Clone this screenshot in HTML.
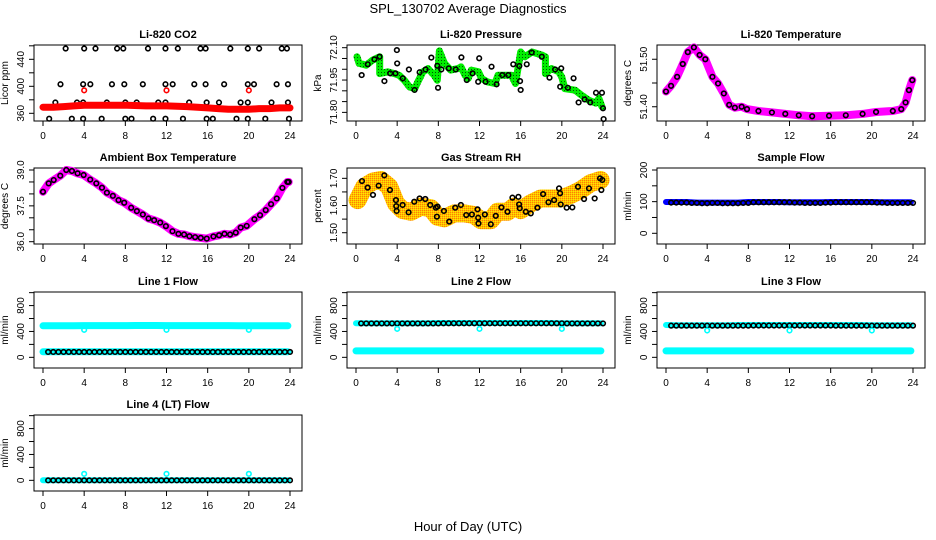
<!DOCTYPE html>
<html><head><meta charset="utf-8">
<style>
html,body{margin:0;padding:0;background:#fff;}
svg{display:block;font-family:"Liberation Sans",Arial,sans-serif;}
</style></head>
<body>
<svg id="chart" width="936" height="540" viewBox="0 0 936 540" xmlns="http://www.w3.org/2000/svg">
<defs>
<pattern id="rhpat" width="2" height="2" patternUnits="userSpaceOnUse">
<rect width="2" height="2" fill="#ffc000"/><rect width="1" height="1" fill="#ff8000"/><rect x="1" y="1" width="1" height="1" fill="#ffe600"/>
</pattern>
<pattern id="grnpat" width="3" height="3" patternUnits="userSpaceOnUse">
<rect width="3" height="3" fill="#00ee00"/><rect width="1" height="1" fill="#005500"/>
</pattern>
</defs>
<text x="468" y="13" text-anchor="middle" font-size="13">SPL_130702  Average Diagnostics</text>
<text x="468" y="531" text-anchor="middle" font-size="13">Hour of Day (UTC)</text>
</svg>
<script>
// ---------- data ----------
var xTicks = [0,4,8,12,16,20,24];
var dipHours = [4,12,20];

// CO2
var co2BandHours = [0,1,2,3,4,6,8,10,12,14,16,17,18,19,20,21,22,23,24];
var co2BandVals = [369,369,370,371,372,372,372,371,371,370,368,367,366,366,366,367,367,368,368];
var co2CircHours = [2.2,4.0,5.1,7.2,7.8,10.2,11.9,13.1,15.3,15.8,18.2,19.9,21.0,23.2,23.7,
 1.7,3.9,4.6,6.7,7.9,9.7,11.9,12.6,14.7,15.8,17.6,19.9,20.5,22.7,23.8,
 1.2,3.3,3.9,6.2,8.0,9.1,11.2,11.9,14.2,15.9,17.1,19.2,19.9,22.2,23.8,
 0.6,2.8,3.9,5.7,8.0,8.6,10.7,11.9,13.6,15.9,16.5,18.8,19.9,21.6,23.9];
var co2CircVals = [456,456,456,456,456,456,456,456,456,456,456,456,456,456,456,
 403,403,403,403,403,403,403,403,403,403,403,403,403,403,403,
 376,376,376,376,376,376,376,376,376,376,376,376,376,376,376,
 352,352,352,352,352,352,352,352,352,352,352,352,352,352,352];
var co2DipVals = [394,394,394];

// Pressure
var presBandHours = [0.1,0.3,1.0,1.6,2.3,2.3,3.1,3.7,4.2,4.7,5.2,5.7,6.0,6.5,7.0,7.6,7.9,8.1,8.6,9.2,9.9,10.2,10.6,10.9,11.2,11.9,12.2,12.8,13.5,13.8,14.5,15.1,15.5,16.0,16.4,17.1,18.1,18.4,18.4,19.0,19.7,20.0,20.3,21.3,21.9,22.6,23.3,23.6,23.9];
var presBandVals = [72.058,72.027,72.019,72.042,72.058,71.980,71.988,71.980,71.972,71.949,71.918,71.910,71.941,71.988,72.003,71.972,71.949,72.085,72.027,71.996,72.003,72.011,71.972,71.957,71.996,71.988,71.957,71.941,71.934,71.972,71.972,71.972,71.934,72.080,72.058,72.080,72.065,72.058,71.980,72.003,71.988,71.964,71.910,71.903,71.880,71.857,71.843,71.865,71.826];
var presCircHours = [0.55,1.14,1.79,2.28,2.76,3.32,3.84,3.97,4.00,4.55,5.14,5.69,6.18,6.76,7.32,7.90,7.97,8.29,9.01,9.69,10.24,10.76,11.32,11.87,11.97,12.59,13.17,13.66,14.21,14.80,15.28,15.87,15.94,16.00,16.59,17.07,18.05,18.80,19.35,19.84,19.94,20.59,21.14,21.63,22.21,22.76,23.32,23.90,24.0,24.06];
var presCircVals = [71.973,72.023,72.046,72.058,71.945,71.981,71.981,72.089,72.027,71.958,71.999,71.904,71.986,71.999,72.054,72.016,71.914,71.999,72.004,71.999,72.055,71.950,71.981,71.942,72.051,71.942,72.012,71.930,71.973,71.973,72.023,72.015,71.945,71.904,72.023,72.078,72.058,71.961,71.999,71.919,72.004,71.914,71.958,71.846,71.860,71.846,71.891,71.891,71.819,71.769];

// Li-820 temperature
var ltHours = [0,0.49,1.08,1.63,2.12,2.71,3.27,3.82,4.51,5.06,5.62,6.14,6.69,7.35,7.87,8.98,10.29,11.59,12.90,14.20,15.84,17.47,19.10,20.41,22.04,22.86,23.28,23.61,23.93];
var ltVals = [51.432,51.444,51.463,51.490,51.515,51.525,51.509,51.500,51.463,51.449,51.428,51.404,51.398,51.400,51.395,51.391,51.388,51.385,51.382,51.380,51.381,51.382,51.385,51.389,51.391,51.395,51.409,51.435,51.456];

// Ambient box temperature
var ambHours = [0,0.55,1.04,1.68,2.26,2.81,3.36,3.95,4.59,5.18,5.73,6.21,6.79,7.34,7.89,8.57,9.12,9.70,10.25,10.80,11.39,11.94,12.58,13.16,13.71,14.23,14.78,15.33,15.91,16.56,17.11,17.63,18.18,18.73,19.21,19.79,20.54,21.09,21.64,22.16,22.71,23.26,23.74,23.87];
var ambVals = [38.09,38.44,38.58,38.76,39.00,38.96,38.86,38.79,38.60,38.44,38.26,38.05,37.92,37.74,37.63,37.42,37.28,37.14,36.97,36.90,36.80,36.65,36.44,36.33,36.30,36.23,36.19,36.16,36.13,36.22,36.27,36.33,36.30,36.38,36.59,36.66,36.94,37.11,37.32,37.57,37.81,38.25,38.50,38.50];

// Gas stream RH
var rhBandHours = [0.16,0.81,1.62,2.43,3.23,3.88,4.53,5.34,6.31,7.28,7.92,8.57,9.54,10.51,11.48,12.13,13.10,13.75,14.72,15.36,16.01,16.98,17.95,18.92,19.89,20.86,21.83,22.80,23.77];
var rhBandVals = [1.620,1.669,1.688,1.694,1.669,1.608,1.583,1.577,1.596,1.590,1.559,1.553,1.571,1.571,1.565,1.546,1.546,1.577,1.577,1.596,1.583,1.608,1.626,1.626,1.626,1.639,1.657,1.682,1.694];
var rhCircHours = [0.58,1.13,1.65,2.20,2.75,3.30,3.88,3.91,3.95,4.53,5.11,5.66,6.18,6.73,7.21,7.76,7.86,7.92,8.54,9.06,9.64,10.19,10.71,11.26,11.81,11.87,11.90,12.52,13.10,13.58,14.13,14.72,15.20,15.78,15.85,15.91,16.50,16.98,17.63,18.18,18.70,19.25,19.73,19.83,19.89,20.47,21.02,21.57,22.16,22.64,23.19,23.71,23.84,23.93];
var rhCircVals = [1.690,1.666,1.639,1.673,1.711,1.657,1.620,1.598,1.580,1.602,1.575,1.614,1.626,1.624,1.602,1.592,1.559,1.596,1.580,1.541,1.592,1.602,1.565,1.567,1.586,1.555,1.534,1.567,1.531,1.562,1.593,1.577,1.629,1.632,1.604,1.590,1.577,1.571,1.592,1.642,1.612,1.620,1.663,1.645,1.604,1.592,1.593,1.669,1.624,1.663,1.626,1.700,1.657,1.694];

// Flows: hourly bands, half-hourly averages
var hourly = [0,1,2,3,4,5,6,7,8,9,10,11,12,13,14,15,16,17,18,19,20,21,22,23,23.8];
var sampleBand = [99,99,99,97,97,97,97,97,99,99,99,99,98,98,98,98,99,99,99,99,99,98,98,98,98];
var sampleAvg = [97,97,97,97,96,96,95,95,96,96,95,95,95,95,96,96,98,98,98,98,98,98,98,98,97,97,96,96,96,96,97,97,98,98,98,98,98,98,98,98,97,97,96,96,96,96,96,96];
var l1Upper = [487,487,487,487,490,490,490,490,490,492,492,492,490,490,490,490,490,490,490,488,488,488,488,488,488];
var l1Lower = [85,85,85,85,85,85,85,85,85,85,85,85,85,85,85,85,85,85,85,85,85,85,85,85,85];
var l1Avg = [83,83,83,83,83,83,83,83,83,83,83,83,83,83,83,83,83,83,83,83,83,83,83,83,83,83,83,83,83,83,83,83,83,83,83,83,83,83,83,83,83,83,83,83,83,83,83,83];
var l1Dip = [425,425,425];
var l2Upper = [528,528,528,528,528,528,528,528,530,530,530,530,530,530,530,530,530,530,530,530,528,528,528,528,528];
var l2Lower = [100,100,100,100,100,100,100,100,100,100,100,100,100,100,100,100,100,100,100,100,100,100,100,100,100];
var l2Avg = [524,524,524,524,524,524,524,524,524,524,524,524,524,524,524,524,526,526,526,526,526,526,526,526,526,526,526,526,526,526,526,526,526,526,526,526,526,526,526,526,524,524,524,524,524,524,524,524];
var l2Dip = [440,440,440];
var l3Upper = [500,495,495,495,495,495,495,500,500,500,500,500,500,500,500,500,500,500,500,500,495,495,495,495,495];
var l3Lower = [100,100,100,100,100,100,100,100,100,100,100,100,100,100,100,100,100,100,100,100,100,100,100,100,100];
var l3Avg = [490,490,490,490,490,490,490,490,490,490,490,490,490,490,490,490,492,492,492,492,492,492,492,492,492,492,492,492,492,492,492,492,490,490,490,490,490,490,490,490,490,490,490,490,490,490,490,490];
var l3Dip = [415,415,415];
var l4Band = [0,0,0,0,0,0,0,0,0,0,0,0,0,0,0,0,0,0,0,0,0,0,0,0,0];
var l4Avg = [0,0,0,0,0,0,0,0,0,0,0,0,0,0,0,0,0,0,0,0,0,0,0,0,0,0,0,0,0,0,0,0,0,0,0,0,0,0,0,0,0,0,0,0,0,0,0,0];
var l4Dip = [100,100,100];

// ---------- rendering ----------
var NS = "http://www.w3.org/2000/svg";
var svg = document.getElementById('chart');
var halfHours = [];
for (var i = 1; i <= 48; i++) halfHours.push(i * 0.5);
var colL = [34, 347, 657], rowT = [45, 168, 292, 415], W = 268, H = 76;

function mk(tag, attrs, parent) {
  var e = document.createElementNS(NS, tag);
  for (var k in attrs) e.setAttribute(k, attrs[k]);
  (parent || svg).appendChild(e);
  return e;
}

function makePanel(name, col, row, title, ylab, ylim, yticks, ylabels) {
  var L = colL[col], T = rowT[row];
  var g = mk('g', {});
  
  
  var p = {g: g, L: L, T: T,
    x: function (h) { return L + 9 + h / 24 * 247; },
    y: function (v) { return T + H - (v - ylim[0]) / (ylim[1] - ylim[0]) * H; }};
  var t = mk('text', {x: L + W / 2, y: T - 7, 'text-anchor': 'middle', 'font-size': 11, 'font-weight': 'bold'}, g);
  t.textContent = title;
  
  
  var box = mk('rect', {x: L, y: T, width: W, height: H, fill: 'none', stroke: '#000', 'stroke-width': 1}, g);
  
  
  var xa = mk('g', {}, g);
  
  
  mk('line', {x1: p.x(0), x2: p.x(24), y1: T + H, y2: T + H, stroke: '#000'}, xa);
  xTicks.forEach(function (h) {
    mk('line', {x1: p.x(h), x2: p.x(h), y1: T + H, y2: T + H + 5, stroke: '#000'}, xa);
    var tl = mk('text', {x: p.x(h), y: T + H + 18, 'text-anchor': 'middle', 'font-size': 10}, xa);
    tl.textContent = h;
    
    
  });
  var ya = mk('g', {}, g);
  
  
  mk('line', {x1: L, x2: L, y1: p.y(yticks[0]), y2: p.y(yticks[yticks.length - 1]), stroke: '#000'}, ya);
  yticks.forEach(function (v) {
    mk('line', {x1: L - 5, x2: L, y1: p.y(v), y2: p.y(v), stroke: '#000'}, ya);
  });
  ylabels.forEach(function (s) {
    var yy = p.y(parseFloat(s));
    var tx = L - 10;
    var tl = mk('text', {x: tx, y: yy, 'text-anchor': 'middle', 'font-size': 10, transform: 'rotate(-90 ' + tx + ' ' + yy + ')'}, ya);
    tl.textContent = s;
    
    
  });
  var yt = mk('text', {x: L - 26, y: T + H / 2, 'text-anchor': 'middle', 'font-size': 10, transform: 'rotate(-90 ' + (L - 26) + ' ' + (T + H / 2) + ')'}, g);
  yt.textContent = ylab;
  
  
  return p;
}

function band(p, xs, ys, color, w, nm) {
  var pts = xs.map(function (h, i) { return p.x(h).toFixed(1) + ',' + p.y(ys[i]).toFixed(1); }).join(' ');
  var e = mk('polyline', {points: pts, fill: 'none', stroke: color, 'stroke-width': w, 'stroke-linejoin': 'round', 'stroke-linecap': 'round'}, p.g);
  
  
}

function circles(p, xs, ys, color, nm, r) {
  var g = mk('g', {}, p.g);
  
  
  xs.forEach(function (h, i) {
    var c = mk('circle', {cx: p.x(h), cy: p.y(ys[i]), r: r || 2.3, fill: 'none', stroke: color, 'stroke-width': 1.6}, g);
    
    
  });
}

var flowTicks = [0,200,400,600,800,1000], flowLabels = ['0','400','800'], flowLim = [-165, 1010];

p = makePanel('co2', 0, 0, 'Li-820 CO2', 'Licor ppm', [348.6, 461.2], [360,380,400,420,440,460], ['360','400','440']);
circles(p, co2CircHours, co2CircVals, '#000', 'co2-average');
band(p, co2BandHours, co2BandVals, '#ff0000', 7, 'co2-raw-band');
circles(p, dipHours, co2DipVals, '#ff0000', 'co2-calibration');

p = makePanel('pressure', 1, 0, 'Li-820 Pressure', 'kPa', [71.760, 72.1125], [71.80,71.85,71.90,71.95,72.00,72.05,72.10], ['71.80','71.95','72.10']);
band(p, presBandHours, presBandVals, 'url(#grnpat)', 7, 'pressure-raw-band');
circles(p, presCircHours, presCircVals, '#000', 'pressure-average');

p = makePanel('li820-temp', 2, 0, 'Li-820 Temperature', 'degrees C', [51.370, 51.530], [51.40,51.45,51.50], ['51.40','51.50']);
band(p, ltHours, ltVals, '#ff00ff', 8, 'li820-temp-raw-band');
circles(p, ltHours, ltVals, '#000', 'li820-temp-average');

p = makePanel('ambient', 0, 1, 'Ambient Box Temperature', 'degrees C', [35.904, 39.084], [36.0,36.5,37.0,37.5,38.0,38.5,39.0], ['36.0','37.5','39.0']);
band(p, ambHours, ambVals, '#ff00ff', 8, 'ambient-raw-band');
circles(p, ambHours, ambVals, '#000', 'ambient-average');

p = makePanel('rh', 1, 1, 'Gas Stream RH', 'percent', [1.4585, 1.738], [1.50,1.55,1.60,1.65,1.70], ['1.50','1.60','1.70']);
band(p, rhBandHours, rhBandVals, 'url(#rhpat)', 18, 'rh-raw-band');
circles(p, rhCircHours, rhCircVals, '#000', 'rh-average');

p = makePanel('sample-flow', 2, 1, 'Sample Flow', 'ml/min', [-33.8, 206.3], [0,50,100,150,200], ['0','100','200']);
band(p, hourly, sampleBand, '#0000ff', 6, 'sample-flow-raw-band');
circles(p, halfHours, sampleAvg, '#000', 'sample-flow-average');

p = makePanel('line1', 0, 2, 'Line 1 Flow', 'ml/min', flowLim, flowTicks, flowLabels);
band(p, hourly, l1Upper, '#00ffff', 7, 'line1-upper-band');
band(p, hourly, l1Lower, '#00ffff', 7, 'line1-lower-band');
circles(p, halfHours, l1Avg, '#000', 'line1-average');
circles(p, dipHours, l1Dip, '#00ffff', 'line1-dips');

p = makePanel('line2', 1, 2, 'Line 2 Flow', 'ml/min', flowLim, flowTicks, flowLabels);
band(p, hourly, l2Upper, '#00ffff', 6, 'line2-upper-band');
band(p, hourly, l2Lower, '#00ffff', 7, 'line2-lower-band');
circles(p, halfHours, l2Avg, '#000', 'line2-average');
circles(p, dipHours, l2Dip, '#00ffff', 'line2-dips');

p = makePanel('line3', 2, 2, 'Line 3 Flow', 'ml/min', flowLim, flowTicks, flowLabels);
band(p, hourly, l3Upper, '#00ffff', 6, 'line3-upper-band');
band(p, hourly, l3Lower, '#00ffff', 7, 'line3-lower-band');
circles(p, halfHours, l3Avg, '#000', 'line3-average');
circles(p, dipHours, l3Dip, '#00ffff', 'line3-dips');

p = makePanel('line4', 0, 3, 'Line 4 (LT) Flow', 'ml/min', flowLim, flowTicks, flowLabels);
band(p, hourly, l4Band, '#00ffff', 6, 'line4-band');
circles(p, halfHours, l4Avg, '#000', 'line4-average');
circles(p, dipHours, l4Dip, '#00ffff', 'line4-dips');
</script>
</body></html>
